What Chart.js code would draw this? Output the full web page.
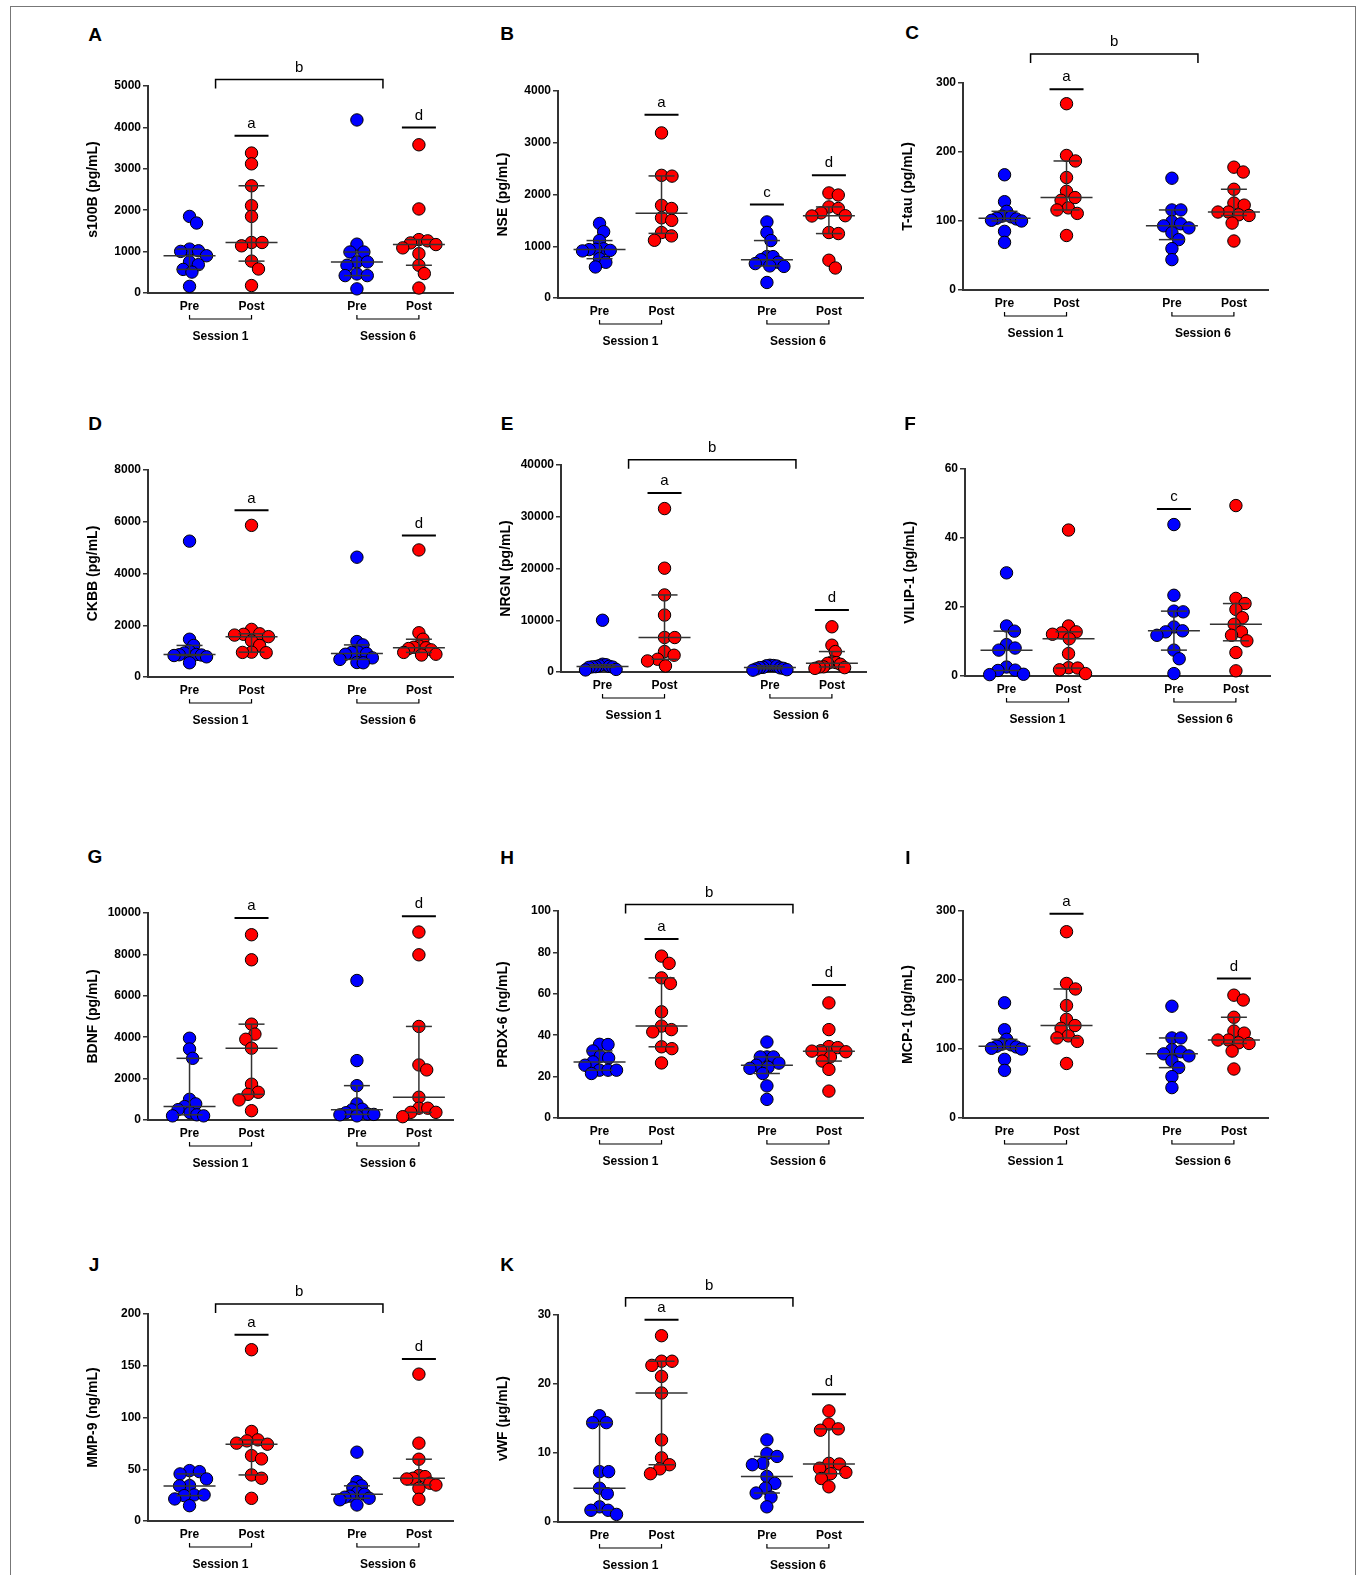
<!DOCTYPE html>
<html>
<head>
<meta charset="utf-8">
<script src="https://cdn.jsdelivr.net/npm/chart.js@4.4.1/dist/chart.umd.min.js"></script>
<style>
body{margin:0;background:#fff;}
#fig{position:relative;width:1360px;height:1575px;overflow:hidden;font-family:"Liberation Sans",Arial,sans-serif;}
#frame{position:absolute;left:10px;top:6px;width:1344px;height:1620px;border:1px solid #777;}
.lt{position:absolute;font-weight:bold;font-size:19px;transform:translate(-50%,-50%);}
canvas{position:absolute;}
</style>
</head>
<body>
<div id="fig"><div id="frame"></div></div>
<script>
const groups=["Pre","Post","Pre","Post"];
const sessions=["Session 1","Session 6"];
const xPos=[1,2,3.7,4.7];
const letters=["A","B","C","D","E","F","G","H","I","J","K"];
const titles=["s100B (pg/mL)","NSE (pg/mL)","T-tau (pg/mL)","CKBB (pg/mL)","NRGN (pg/mL)","VILIP-1 (pg/mL)","BDNF (pg/mL)","PRDX-6 (ng/mL)","MCP-1 (pg/mL)","MMP-9 (ng/mL)","vWF (\u03bcg/mL)"];
const yMax=[5000,4000,300,8000,40000,60,10000,100,300,200,30];
const yStep=[1000,1000,100,2000,10000,20,2000,20,100,50,10];

// Pre S1, Post S1, Pre S6, Post S6
const s100B=[
[1850,1690,1060,1020,1005,900,750,685,570,505,160],
[3380,3120,2590,2110,1850,1220,1220,1140,770,580,180],
[4180,1180,990,990,750,750,670,460,420,420,100],
[3580,2030,1290,1260,1210,1170,1090,950,670,470,120]];
const nse=[
[1440,1280,1110,950,940,935,920,910,760,690,600],
[3190,2370,2355,1790,1730,1550,1500,1265,1200,1115],
[1470,1265,1110,800,800,740,690,665,620,610,300],
[2030,1990,1760,1730,1645,1590,1585,1265,1245,730,580]];
const tTau=[
[167,128,114,107,106,104,103,101,100,85,69],
[270,195,187,163,143,134,130,119,116,111,79],
[162,116,116,99,96,93,90,83,73,60,44],
[178,171,146,126,123,113,113,109,108,97,71]];
const ckbb=[
[5250,1460,1220,1000,930,870,860,850,830,780,550],
[5860,1840,1670,1650,1620,1560,1400,1220,960,950,940],
[4630,1370,1240,970,950,910,880,740,680,560,550],
[4910,1710,1460,1200,1150,1130,1100,1050,950,880,850]];
const nrgn=[
[10000,1500,1400,1200,1100,1040,1000,950,900,500,400],
[31580,20060,14890,11000,6670,6660,3950,3240,2460,2140,1170],
[1300,1250,1200,1150,900,850,800,700,600,450,350],
[8740,5180,3950,1940,1810,1680,1490,1000,970,840,700]];
const vilip1=[
[29.9,14.5,13.0,9.1,8.1,7.5,2.6,1.7,1.6,0.5,0.4],
[42.3,14.5,12.8,12.5,12.1,10.8,6.5,2.4,2.3,1.8,0.7],
[43.9,23.4,18.8,18.6,14.2,13.1,12.8,11.8,7.5,5.0,0.7],
[49.4,22.5,21.0,19.3,16.9,15.0,12.8,11.8,10.2,6.8,1.5]];
const bdnf=[
[3950,3430,2980,1000,780,650,500,350,250,200,200],
[8950,7740,4630,4150,3900,3470,1730,1340,1240,970,450],
[6740,2870,1660,780,520,490,350,290,270,250,200],
[9080,7980,4520,2660,2420,1100,570,570,370,370,160]];
const prdx6=[
[35.6,35.5,32.4,29.8,29.0,27.1,25.5,23.1,23.1,23.1,21.5],
[78.2,74.7,67.7,65.0,51.3,44.4,42.7,41.6,34.4,33.5,26.6],
[36.7,29.5,29.5,29.5,26.5,25.5,24.5,24.0,21.5,15.5,9.0],
[55.6,42.7,34.5,34.0,32.5,32.3,32.0,29.5,27.5,23.5,13.0]];
const mcp1=[
[167,128,114,107,106,104,103,101,100,85,69],
[270,195,187,163,143,134,130,119,116,111,79],
[162,116,116,99,96,93,90,83,73,60,44],
[178,171,146,126,123,113,113,109,108,97,71]];
const mmp9=[
[48.7,47.7,45.5,40.6,34.2,33.9,25.2,25.2,24.5,21.3,14.8],
[165.5,86.5,78.4,77.4,75.2,74.2,63.2,60.0,44.5,41.3,21.9],
[66.5,38,34,32,27.5,25.8,24,23,22,20.5,15.5],
[141.9,75.2,59.7,43.9,42.9,41.3,40.6,36.5,34.8,31.6,21.0]];
const vwf=[
[15.4,14.4,14.4,7.3,7.3,4.9,4.1,2.2,1.7,1.7,1.1],
[27.0,23.3,23.3,22.7,21.1,18.7,11.9,9.3,8.3,7.7,7.0],
[11.9,9.9,9.5,8.5,8.3,6.6,5.6,4.9,4.2,3.6,2.2],
[16.1,14.2,13.5,13.3,8.5,8.4,7.8,7.2,7.0,6.3,5.1]];

const panelData=[s100B,nse,tTau,ckbb,nrgn,vilip1,bdnf,prdx6,mcp1,mmp9,vwf];

// significance letters: [letter, group, level]
const marks=[
[["a",1,3800],["d",3,4000]],
[["a",1,3540],["c",2,1806],["d",3,2374]],
[["a",1,291]],
[["a",1,6440],["d",3,5470]],
[["a",1,34600],["d",3,12000]],
[["c",2,48.4]],
[["a",1,9760],["d",3,9840]],
[["a",1,86.5],["d",3,64.2]],
[["a",1,296],["d",3,202]],
[["a",1,180],["d",3,156.5]],
[["a",1,29.3],["d",3,18.5]]];
// session 1 vs session 6 bracket "b"
const brackets=[5160,null,342,null,41000,null,null,103.2,null,209.7,32.5];

// layout
const axisX=[148,558,963,148,561,965,148,558,963,148,558];
const axisTop=[86,91,83,470,465,469,913,911,911,1314,1315];
const letterPos=[[95,35],[507,34],[912,33],[95,424],[507,424],[910,424],[95,857],[507,858],[908,858],[94,1265],[507,1265]];
const plotW=305,plotH=207,xMin=0.33,xMax=5.25;
const pxX=plotW/(xMax-xMin);
const font='"Liberation Sans", Arial, sans-serif';

function swarm(vals,pxY){
const D=10.5,cap=17;
const idx=vals.map((v,i)=>i).sort((a,b)=>vals[b]-vals[a]);
const placed=[];
const off=vals.map(()=>0);
idx.forEach(i=>{
const y=vals[i]*pxY;
let cands=[0];
placed.forEach(p=>{
const dy=y-p.y;
if(Math.abs(dy)<D){
const w=Math.sqrt(D*D-dy*dy);
cands.push(p.x+w,p.x-w);
}
});
cands.sort((a,b)=>Math.abs(a)-Math.abs(b));
const c=cands.find(c=>placed.every(p=>(c-p.x)**2+(y-p.y)**2>=D*D-0.01));
off[i]=c;
placed.push({x:c,y:y});
});
const wide=Math.max(...off.map(Math.abs));
const f=wide>cap?cap/wide:1;
return off.map(o=>o*f);
}

function quant(s,p){
const n=s.length;
const h=(n+1)*p;
const lo=Math.floor(h);
if(lo<1)return s[0];
if(lo>=n)return s[n-1];
return s[lo-1]+(h-lo)*(s[lo]-s[lo-1]);
}

function seg(ctx,x1,y1,x2,y2){
ctx.beginPath();
ctx.moveTo(x1,y1);
ctx.lineTo(x2,y2);
ctx.stroke();
}

const fig=document.getElementById("fig");

panelData.forEach((grp,k)=>{

let lt=document.createElement("div");
lt.className="lt";
lt.textContent=letters[k];
lt.style.left=letterPos[k][0]+"px";
lt.style.top=letterPos[k][1]+"px";
fig.appendChild(lt);

let cv=document.createElement("canvas");
cv.width=420;
cv.height=360;
cv.style.left=(axisX[k]-90)+"px";
cv.style.top=(axisTop[k]-70)+"px";
fig.appendChild(cv);

const pxY=plotH/yMax[k];

const datasets=grp.map((vals,g)=>{
const off=swarm(vals,pxY);
return{
data:vals.map((v,i)=>({x:xPos[g]+off[i]/pxX,y:v})),
backgroundColor:g%2?"#ff0000":"#0000ff",
borderColor:"#000",
borderWidth:1,
pointRadius:6.2,
pointHoverRadius:6.2,
clip:false
};
});

new Chart(cv,{
type:"scatter",
data:{datasets},
options:{
responsive:false,
animation:false,
events:[],
layout:{padding:{left:27,top:70,right:25,bottom:23}},
plugins:{legend:{display:false},tooltip:{enabled:false}},
scales:{
x:{
type:"linear",
min:xMin,
max:xMax,
afterBuildTicks:s=>{s.ticks=xPos.map(v=>({value:v}));},
afterFit:s=>{s.height=60;},
grid:{display:false,drawTicks:false},
border:{display:true,color:"#333",width:2},
ticks:{
callback:(v,i)=>groups[i],
color:"#000",
font:{family:font,size:12,weight:"bold"},
padding:6,
autoSkip:false,
maxRotation:0
}
},
y:{
min:0,
max:yMax[k],
afterFit:s=>{s.width=63;},
grid:{drawOnChartArea:false,drawTicks:true,tickLength:5,color:"#333",lineWidth:1.5},
border:{display:true,color:"#333",width:2},
ticks:{
stepSize:yStep[k],
callback:v=>v,
color:"#000",
font:{family:font,size:12,weight:"bold"},
padding:2
},
title:{
display:true,
text:titles[k],
color:"#000",
font:{family:font,size:14,weight:"bold"},
padding:{top:0,bottom:0}
}
}
}
},
plugins:[{
id:"extras"+k,
afterDatasetsDraw(chart){
const ctx=chart.ctx;
const x=chart.scales.x,y=chart.scales.y;
ctx.save();

ctx.strokeStyle="#333";
ctx.lineWidth=1.5;
grp.forEach((vals,g)=>{
const s=[...vals].sort((a,b)=>a-b);
const cx=x.getPixelForValue(xPos[g]);
const m=y.getPixelForValue(quant(s,0.5));
const q1=y.getPixelForValue(quant(s,0.25));
const q3=y.getPixelForValue(quant(s,0.75));
seg(ctx,cx-26,m,cx+26,m);
seg(ctx,cx,q1,cx,q3);
seg(ctx,cx-13,q1,cx+13,q1);
seg(ctx,cx-13,q3,cx+13,q3);
});

ctx.strokeStyle="#000";
ctx.fillStyle="#000";
ctx.textAlign="center";
ctx.textBaseline="middle";
ctx.font="15px "+font;
ctx.lineWidth=2;
marks[k].forEach(mk=>{
const cx=x.getPixelForValue(xPos[mk[1]]);
const py=y.getPixelForValue(mk[2]);
seg(ctx,cx-17,py,cx+17,py);
ctx.fillText(mk[0],cx,py-12);
});

if(brackets[k]!==null){
const py=y.getPixelForValue(brackets[k]);
const x1=x.getPixelForValue(1.42),x2=x.getPixelForValue(4.12);
ctx.lineWidth=1.5;
ctx.beginPath();
ctx.moveTo(x1,py+9);
ctx.lineTo(x1,py);
ctx.lineTo(x2,py);
ctx.lineTo(x2,py+9);
ctx.stroke();
ctx.fillText("b",(x1+x2)/2,py-12);
}

const by=chart.chartArea.bottom+26;
ctx.lineWidth=1.2;
ctx.font="bold 12px "+font;
sessions.forEach((label,s)=>{
const xa=x.getPixelForValue(xPos[2*s]);
const xb=x.getPixelForValue(xPos[2*s+1]);
ctx.beginPath();
ctx.moveTo(xa,by-4);
ctx.lineTo(xa,by);
ctx.lineTo(xb,by);
ctx.lineTo(xb,by-4);
ctx.stroke();
ctx.fillText(label,(xa+xb)/2,by+18);
});

ctx.restore();
}
}]
});

});
</script>
</body>
</html>
